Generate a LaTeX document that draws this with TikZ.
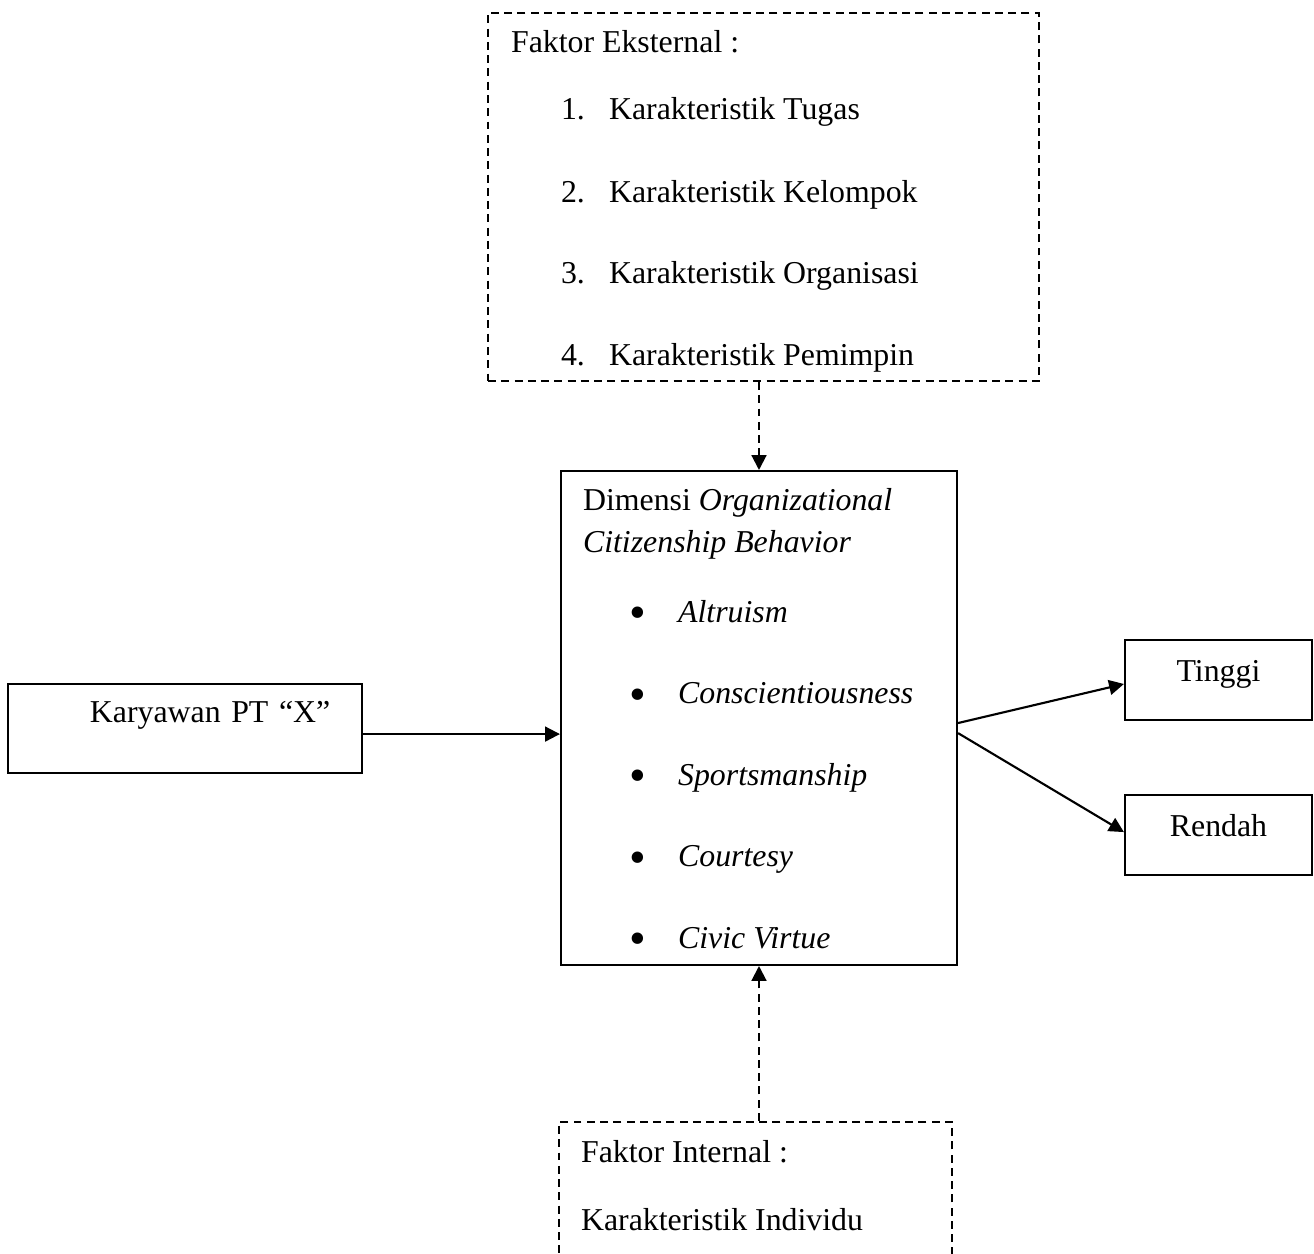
\documentclass[tikz,border=0pt]{standalone}
\usepackage{fontspec}
\setmainfont{Liberation Serif}
\usetikzlibrary{arrows.meta}

\newcommand{\ocbdot}{\makebox[18.5pt][l]{\raisebox{-2.5pt}{\fontsize{18pt}{18pt}\selectfont\textbullet}}}

\begin{document}
\begin{tikzpicture}[x=0.377pt,y=-0.377pt,>={Triangle[length=5.6pt,width=5.6pt]},
    line width=0.8pt,font=\fontsize{12pt}{14pt}\selectfont,
    box node/.style={rectangle,draw,inner sep=0pt},
    dash node/.style={rectangle,draw,dash pattern=on 3pt off 2pt,inner sep=0pt},
    out node/.style={box node,minimum width=70.5pt,text height=15.5pt,text depth=14.7pt},
    txt node/.style={anchor=base west,inner sep=0pt}]

    \useasboundingbox (0,0) rectangle (1314,1254);
    \clip (0,0) rectangle (1314,1254);

    % faktor eksternal
    \node[dash node,minimum width=207.7pt,minimum height=138.7pt] (EXT) at (763.5,197) {};
    \node[txt node] (EXTT) at (510,52) {Faktor Eksternal :};
    \node[txt node] (EXT1) at (560,119) {\makebox[18.1pt][l]{1.}Karakteristik Tugas};
    \node[txt node] (EXT2) at (560,202) {\makebox[18.1pt][l]{2.}Karakteristik Kelompok};
    \node[txt node] (EXT3) at (560,283) {\makebox[18.1pt][l]{3.}Karakteristik Organisasi};
    \node[txt node] (EXT4) at (560,365) {\makebox[18.1pt][l]{4.}Karakteristik Pemimpin};

    % dimensi OCB
    \node[box node,minimum width=149.3pt,minimum height=186.2pt] (OCB) at (759,718) {};
    \node[txt node] (OCBT) at (582,510) {Dimensi \textit{Organizational}};
    \node[txt node] (OCBT2) at (582,552) {\textit{Citizenship Behavior}};
    \node[txt node] (ALT) at (628,622) {\ocbdot\textit{Altruism}};
    \node[txt node] (CON) at (628,703.5) {\ocbdot\textit{Conscientiousness}};
    \node[txt node] (SPO) at (628,785) {\ocbdot\textit{Sportsmanship}};
    \node[txt node] (COU) at (628,866.5) {\ocbdot\textit{Courtesy}};
    \node[txt node] (CIV) at (628,948) {\ocbdot\textit{Civic Virtue}};

    \node[box node,text width=133.5pt,align=left,text height=14.7pt,text depth=18.9pt]
      (KAR) at (185,728.5) {\hspace*{30.9pt}Karyawan PT “X”};

    \node[out node] (TG) at (1218.5,680) {Tinggi};
    \node[out node] (RD) at (1218.5,835) {Rendah};

    % faktor internal
    \node[dash node,minimum width=148.2pt,minimum height=67.1pt] (INT) at (755.5,1211) {};
    \node[txt node] (INTT) at (580,1162) {Faktor Internal :};
    \node[txt node] (INT1) at (580,1230) {Karakteristik Individu};

    \path[->]
    (EXT.south -| OCB.north) edge [dash pattern=on 3pt off 2pt] (OCB)
    (INT.north -| OCB.south) edge [dash pattern=on 3pt off 2pt] (OCB)
    ([yshift=-2.1pt]KAR.east) edge ([yshift=-2.1pt]KAR.east -| OCB.west)
    ([yshift=-1.9pt]OCB.east) edge ([yshift=-1.5pt]TG.west)
    ([yshift=-5.7pt]OCB.east) edge ([yshift=1.1pt]RD.west)
    ;
\end{tikzpicture}
\end{document}
